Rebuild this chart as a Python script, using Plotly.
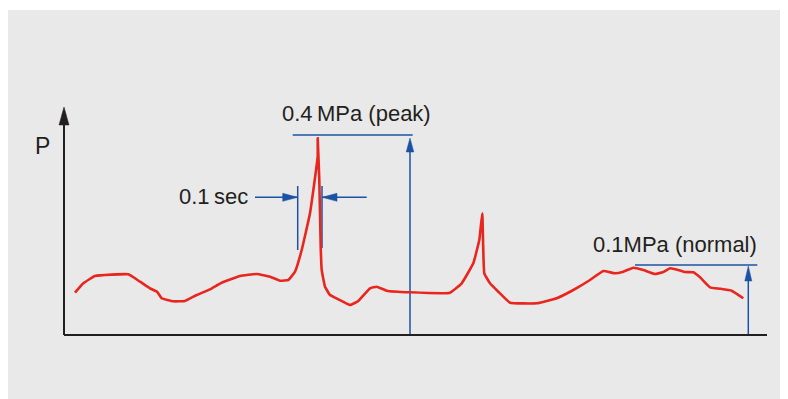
import plotly.graph_objects as go

# ---- data (time units, pressure units; no ticks shown) ----
t = [11, 19.3, 31, 64.3, 76, 86, 93.3, 97.7, 109.3, 121, 132.7, 146, 157.7, 176,
     192.7, 206, 216, 224.3, 231, 237.7, 246, 253.7, 253.7, 255.3, 256.7, 257.7,
     261, 266, 274.3, 286, 294.3, 306, 312.7, 322.7, 346, 386, 397.7, 409.3,
     415.3, 418.3, 420.3, 426, 434.3, 446, 472.7, 492.7, 509.3, 526, 539.3, 551,
     559.3, 569.3, 579.3, 591, 599.3, 606, 614.3, 621, 629.3, 636, 646, 656,
     667.7, 679.3]
p = [42.3, 51.7, 59, 60.7, 53.3, 46.7, 43, 36.7, 33.7, 34, 40, 45.7, 52.3, 59,
     61, 58.3, 54.3, 55, 63.3, 85, 121.7, 178.3, 196.7, 155, 88.3, 65,
     48.3, 40, 35.7, 30, 34, 46.7, 48.3, 44.3, 42.7, 42.3, 51.7, 71.7,
     95, 121.7, 61.7, 51.7, 43.3, 32.3, 31.7, 36.7, 45, 55, 64, 61.7,
     63.3, 67.3, 65, 61, 63, 66.7, 65, 63, 62.7, 57.7, 47.7, 46.3,
     44.3, 36.7]

peak_level = 200        # 0.4 MPa (peak)
normal_level = 70       # 0.1 MPa (normal)
peak_line_x = [228.7, 348.7]
peak_arrow_x = 346
normal_line_x = [571, 693.3]
normal_arrow_x = 684.3
window_x = [233.7, 258]          # 0.1 sec window
window_y = [85, 149]
window_arrow_y = 137.7
window_arrow_left_start = 191
window_arrow_right_start = 302.7
x_end = 703
y_top = 228

labels = {
    "peak": "0.4\u2009MPa (peak)",
    "sec": "0.1\u2009sec",
    "normal": "0.1MPa (normal)",
    "P": "P",
}

RED = "#e8261e"
BLUE = "#1b52a3"
DARK = "#231f20"
GREY = "#e9e9e9"

fig = go.Figure()


def line(xs, ys, color, width):
    fig.add_trace(go.Scatter(x=xs, y=ys, mode="lines", cliponaxis=False,
                             line=dict(color=color, width=width),
                             hoverinfo="skip", showlegend=False))


def head(tip_x, tip_y, direction, length, half_w, color):
    # filled triangular arrowhead
    if direction == "up":
        xs = [tip_x, tip_x - half_w, tip_x + half_w, tip_x]
        ys = [tip_y, tip_y - length, tip_y - length, tip_y]
    elif direction == "right":
        xs = [tip_x, tip_x - length, tip_x - length, tip_x]
        ys = [tip_y, tip_y + half_w, tip_y - half_w, tip_y]
    else:  # left
        xs = [tip_x, tip_x + length, tip_x + length, tip_x]
        ys = [tip_y, tip_y + half_w, tip_y - half_w, tip_y]
    fig.add_trace(go.Scatter(x=xs, y=ys, mode="lines", fill="toself",
                             fillcolor=color, cliponaxis=False,
                             line=dict(color=color, width=0.5),
                             hoverinfo="skip", showlegend=False))


# axes
line([0, x_end], [0, 0], DARK, 2)
line([0, 0], [0, y_top - 12], DARK, 2)
head(0, y_top, "up", 18, 5, DARK)

# blue annotation lines
line(peak_line_x, [peak_level, peak_level], BLUE, 1.5)
line([peak_arrow_x, peak_arrow_x], [1, peak_level - 12], BLUE, 1.5)
head(peak_arrow_x, peak_level - 3, "up", 14, 3.8, BLUE)

line(normal_line_x, [normal_level, normal_level], BLUE, 1.5)
line([normal_arrow_x, normal_arrow_x], [1, normal_level - 12], BLUE, 1.5)
head(normal_arrow_x, normal_level - 1, "up", 15, 3.5, BLUE)

line([window_x[0], window_x[0]], window_y, BLUE, 1.5)
line([window_x[1], window_x[1]], [window_y[0] + 2, window_y[1]], BLUE, 1.5)
line([window_arrow_left_start, window_x[0]], [window_arrow_y] * 2, BLUE, 1.5)
head(window_x[0], window_arrow_y, "right", 15, 4, BLUE)
line([window_x[1], window_arrow_right_start], [window_arrow_y] * 2, BLUE, 1.5)
head(window_x[1], window_arrow_y, "left", 15, 4, BLUE)

# pressure curve
fig.add_trace(go.Scatter(x=t, y=p, mode="lines", cliponaxis=False,
                         line=dict(color=RED, width=2.6, shape="spline", smoothing=0.3),
                         hoverinfo="skip", showlegend=False))

font = dict(family="Liberation Sans, Arial, sans-serif", size=22, color=DARK)
fig.add_annotation(x=292.9, y=221.3, text=labels["peak"], showarrow=False, font=font)
fig.add_annotation(x=149.3, y=138.3, text=labels["sec"], showarrow=False, font=font)
fig.add_annotation(x=611, y=91, text=labels["normal"], showarrow=False, font=font)
fig.add_annotation(x=-21.5, y=189.3, text=labels["P"], showarrow=False,
                   font=dict(family="Liberation Sans, Arial, sans-serif", size=23, color=DARK))

# page body has an 8px margin: figure pixel = page pixel - 8.
# Plot area fills the whole figure; axis origin sits at figure pixel (56, 327).
W, H = 780, 391
OX, OY = 56, 327
fig.add_shape(type="rect", xref="paper", yref="paper", layer="below",
              x0=0, x1=1, y0=0, y1=(H - 2) / H,
              fillcolor=GREY, line=dict(width=0))

fig.update_layout(
    width=W, height=H,
    margin=dict(l=0, r=0, t=0, b=0),
    paper_bgcolor="white", plot_bgcolor="rgba(0,0,0,0)",
    xaxis=dict(range=[-OX, W - OX], visible=False, fixedrange=True),
    yaxis=dict(range=[-(H - OY), OY], visible=False, fixedrange=True),
    showlegend=False,
)

fig.write_html("out.html")
